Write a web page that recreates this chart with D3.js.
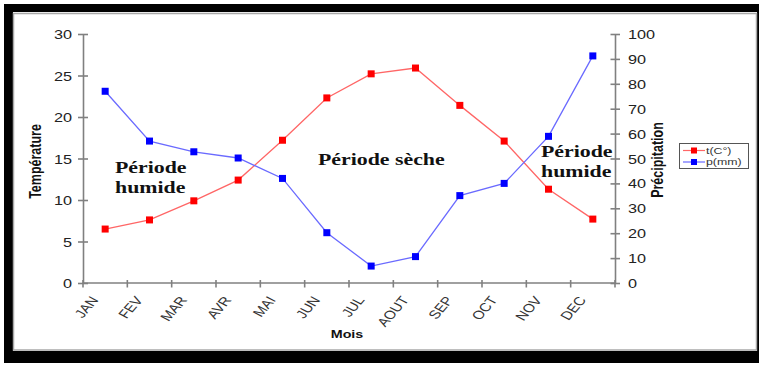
<!DOCTYPE html>
<html>
<head>
<meta charset="utf-8">
<script src="https://cdn.jsdelivr.net/npm/d3@7"></script>
<style>
  html, body { margin: 0; padding: 0; background: #fff; }
  svg { display: block; }
</style>
</head>
<body>
<svg id="chart" width="759" height="365"></svg>
<script>
// Climate data by month
const months = ["JAN", "FEV", "MAR", "AVR", "MAI", "JUN", "JUL", "AOUT", "SEP", "OCT", "NOV", "DEC"];
const temperature = [6.5, 7.6, 9.9, 12.4, 17.2, 22.3, 25.2, 25.9, 21.4, 17.1, 11.3, 7.7];
const precipitation = [77, 57, 52.7, 50.2, 42, 20.2, 6.8, 10.6, 35.1, 40, 58.9, 91.2];
const tempTicks = [0, 5, 10, 15, 20, 25, 30];
const precTicks = [0, 10, 20, 30, 40, 50, 60, 70, 80, 90, 100];
const seriesNames = ["t(C°)", "p(mm)"];
const notes = [
  { lines: ["Période", "humide"], x: 115, y: 172.7 },
  { lines: ["Période sèche"], x: 318, y: 165 },
  { lines: ["Période", "humide"], x: 541, y: 156.7 }
];

const SX = 1.3; // horizontal text stretch
const svg = d3.select("#chart");

// Frame with dark shadow
svg.append("rect").attr("x", 4).attr("y", 4).attr("width", 755).attr("height", 359).attr("fill", "#000");
svg.append("rect").attr("x", 13).attr("y", 12).attr("width", 744).attr("height", 339).attr("fill", "#fff");
svg.append("rect").attr("x", 13.5).attr("y", 13.5).attr("width", 743).attr("height", 336.5)
  .attr("fill", "none").attr("stroke", "#a8a8a8").attr("stroke-width", 1.5);

const x = d3.scaleBand().domain(months).range([83, 615]);
const yT = d3.scaleLinear().domain([0, 30]).range([283, 34]);
const yP = d3.scaleLinear().domain([0, 100]).range([283, 34]);

const axisColor = "#808080";
const tickFont = "Liberation Sans, Arial, sans-serif";

function styleAxis(g) {
  g.selectAll(".domain").attr("stroke", axisColor).attr("stroke-width", 1.6);
  g.selectAll(".tick line").attr("stroke", axisColor).attr("stroke-width", 1.6);
}

// Left axis (temperature)
const gL = svg.append("g").attr("transform", "translate(83,0)")
  .call(d3.axisLeft(yT).tickValues(tempTicks).tickSize(5).tickSizeOuter(0));
styleAxis(gL);
gL.selectAll(".tick line").attr("x1", 5).attr("x2", -5);
gL.selectAll(".tick text")
  .attr("x", null).attr("dy", null)
  .attr("text-anchor", "end")
  .attr("transform", `translate(-11,4.5) scale(${SX},1)`)
  .attr("font-family", tickFont).attr("font-size", 12.5).attr("fill", "#222");

// Right axis (precipitation)
const gR = svg.append("g").attr("transform", "translate(615,0)")
  .call(d3.axisRight(yP).tickValues(precTicks).tickSize(5).tickSizeOuter(0));
styleAxis(gR);
gR.selectAll(".tick line").attr("x1", -4.5).attr("x2", 5);
gR.selectAll(".tick text")
  .attr("x", null).attr("dy", null)
  .attr("text-anchor", "start")
  .attr("transform", `translate(13,4.5) scale(${SX},1)`)
  .attr("font-family", tickFont).attr("font-size", 12.5).attr("fill", "#222");

// Bottom axis (months), ticks on category boundaries
const gB = svg.append("g").attr("transform", "translate(0,283)");
gB.append("line").attr("x1", 83).attr("x2", 615).attr("y1", 0).attr("y2", 0)
  .attr("stroke", axisColor).attr("stroke-width", 1.6);
gB.selectAll("line.tk").data(months.concat(["_end"])).join("line").attr("class", "tk")
  .attr("x1", (d, i) => 83 + i * x.bandwidth()).attr("x2", (d, i) => 83 + i * x.bandwidth())
  .attr("y1", -3).attr("y2", 4.5)
  .attr("stroke", axisColor).attr("stroke-width", 1.6);
gB.selectAll("text").data(months).join("text")
  .attr("text-anchor", "end")
  .attr("transform", d => `translate(${x(d) + x.bandwidth() / 2 - 6},${17}) scale(${SX},1) rotate(-56)`)
  .attr("font-family", tickFont).attr("font-size", 12).attr("fill", "#333")
  .text(d => d);

// Axis titles
svg.append("text")
  .attr("transform", `translate(41,161.5) scale(${SX},1) rotate(-90)`)
  .attr("text-anchor", "middle").attr("font-family", tickFont).attr("font-weight", "bold")
  .attr("font-size", 12.5).attr("fill", "#111").text("Température");
svg.append("text")
  .attr("transform", `translate(663,160) scale(${SX},1) rotate(-90)`)
  .attr("text-anchor", "middle").attr("font-family", tickFont).attr("font-weight", "bold")
  .attr("font-size", 12.5).attr("fill", "#111").text("Précipitation");
svg.append("text")
  .attr("transform", `translate(347,338) scale(${SX},1)`)
  .attr("text-anchor", "middle").attr("font-family", tickFont).attr("font-weight", "bold")
  .attr("font-size", 11).attr("fill", "#111").text("Mois");

// Series lines and markers
const cx = d => x(d) + x.bandwidth() / 2;
const lineT = d3.line().x((d, i) => cx(months[i])).y(d => yT(d));
const lineP = d3.line().x((d, i) => cx(months[i])).y(d => yP(d));

svg.append("path").attr("d", lineT(temperature)).attr("fill", "none")
  .attr("stroke", "#ff6666").attr("stroke-width", 1.3);
svg.append("path").attr("d", lineP(precipitation)).attr("fill", "none")
  .attr("stroke", "#6a6aff").attr("stroke-width", 1.3);

const M = 7;
svg.append("g").selectAll("rect").data(temperature).join("rect")
  .attr("x", (d, i) => cx(months[i]) - M / 2).attr("y", d => yT(d) - M / 2)
  .attr("width", M).attr("height", M).attr("fill", "#ff0000");
svg.append("g").selectAll("rect").data(precipitation).join("rect")
  .attr("x", (d, i) => cx(months[i]) - M / 2).attr("y", d => yP(d) - M / 2)
  .attr("width", M).attr("height", M).attr("fill", "#0000ff");

// Period annotations
notes.forEach(n => {
  n.lines.forEach((t, k) => {
    svg.append("text")
      .attr("transform", `translate(${n.x},${n.y + k * 20}) scale(${SX},1)`)
      .attr("font-family", "Liberation Serif, Times New Roman, serif")
      .attr("font-weight", "bold").attr("font-size", 16.8).attr("fill", "#111")
      .text(t);
  });
});

// Legend
const lg = svg.append("g");
lg.append("rect").attr("x", 679.5).attr("y", 143.5).attr("width", 69).attr("height", 25)
  .attr("fill", "#fff").attr("stroke", "#555").attr("stroke-width", 1);
const legColors = [["#ff6666", "#ff0000"], ["#6a6aff", "#0000ff"]];
seriesNames.forEach((name, i) => {
  const yy = 150.5 + i * 11.5;
  lg.append("line").attr("x1", 683).attr("x2", 705).attr("y1", yy).attr("y2", yy)
    .attr("stroke", legColors[i][0]).attr("stroke-width", 1.2);
  lg.append("rect").attr("x", 691).attr("y", yy - 3).attr("width", 6).attr("height", 6)
    .attr("fill", legColors[i][1]);
  lg.append("text").attr("transform", `translate(706,${yy + 3.3}) scale(${SX},1)`)
    .attr("font-family", tickFont).attr("font-size", 9.5).attr("fill", "#333").text(name);
});
</script>
</body>
</html>
